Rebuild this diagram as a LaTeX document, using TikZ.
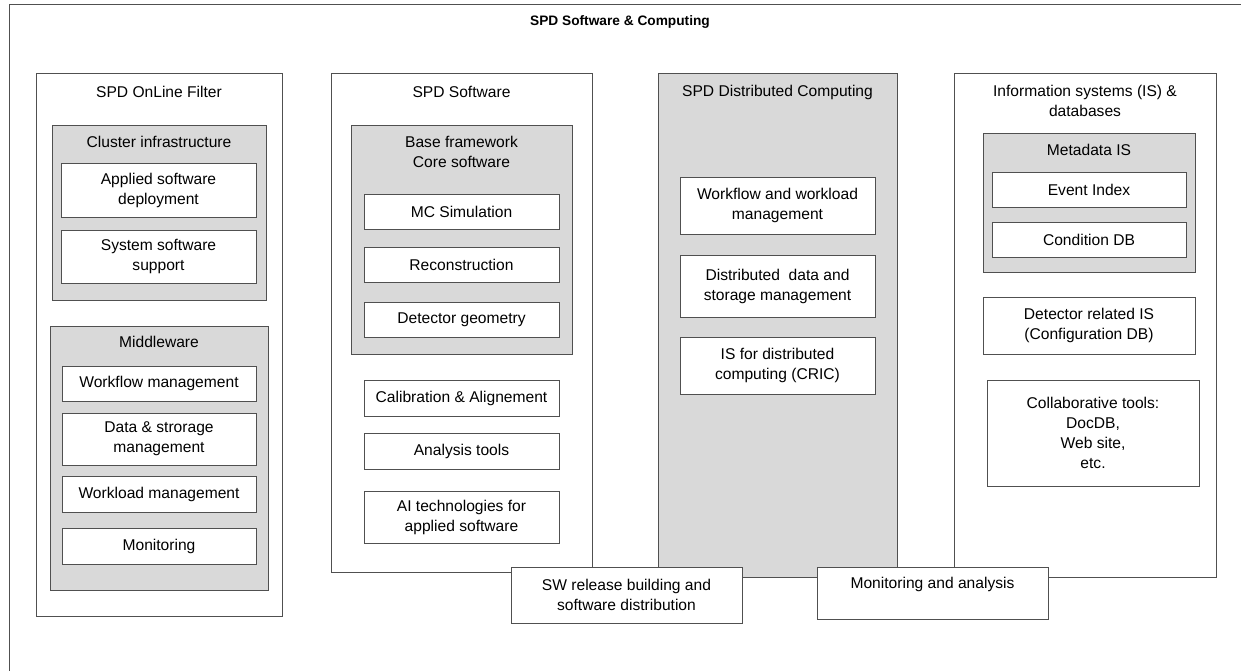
\documentclass[tikz,border=0pt]{standalone}
\usepackage{fontspec}
\setmainfont{Liberation Sans}
\usetikzlibrary{positioning}
\definecolor{panelgray}{RGB}{217,217,217}
\definecolor{edgegray}{RGB}{80,80,80}

\begin{document}
\begin{tikzpicture}[x=1pt, y=-1pt,
    every node/.style={font=\fontsize{15.6}{20}\selectfont, align=center, inner sep=0pt, outer sep=0pt},
    column box/.style={draw=edgegray, line width=1pt, fill=white, anchor=north west},
    group box/.style={draw=edgegray, line width=1pt, fill=panelgray, anchor=north west},
    item box/.style={draw=edgegray, line width=1pt, fill=white, anchor=north west, minimum width=195pt}
]
    \useasboundingbox (0,0) rectangle (1241,670);
    \clip (0,0) rectangle (1241,670);

    \node[column box, minimum width=1260pt, minimum height=700pt] (frame) at (9,4) {};
    \node[font=\bfseries\fontsize{13.7}{16}\selectfont] (main title) at (620,22) {SPD Software \& Computing};

    \node[column box, minimum width=246pt, minimum height=543pt] (online filter) at (36,73) {};
    \node (online title) [yshift=-18.5pt] at (online filter.north) {SPD OnLine Filter};

    \node[group box, minimum width=214pt, minimum height=175pt] (cluster) at (52,125) {};
    \node (cluster title) [yshift=-17pt] at (cluster.north) {Cluster infrastructure};
    \node[item box, minimum height=54pt] (applied sw) at (61,163) {Applied software\\deployment};
    \node[item box, minimum height=53pt, below=13pt of applied sw] (system sw) {System software\\support};

    \node[group box, minimum width=218pt, minimum height=264pt] (middleware) at (50,326) {};
    \node (middleware title) [yshift=-16pt] at (middleware.north) {Middleware};
    \node[item box, minimum width=194pt, minimum height=35pt] (workflow mgmt) at (62,366) {Workflow management};
    \node[item box, minimum width=194pt, minimum height=52pt, below=12pt of workflow mgmt] (data mgmt) {Data \& strorage\\management};
    \node[item box, minimum width=194pt, minimum height=36pt, below=11pt of data mgmt] (workload mgmt) {Workload management};
    \node[item box, minimum width=194pt, minimum height=36pt, below=16pt of workload mgmt] (monitoring) {Monitoring};

    \node[column box, minimum width=261pt, minimum height=499pt] (spd software) at (331,73) {};
    \node (software title) [yshift=-19pt] at (spd software.north) {SPD Software};

    \node[group box, minimum width=221pt, minimum height=229pt] (base framework) at (351,125) {};
    \node (base title) [yshift=-27pt] at (base framework.north) {Base framework\\Core software};
    \node[item box, minimum height=35pt] (mc simulation) at (364,194) {MC Simulation};
    \node[item box, minimum height=35pt, below=18pt of mc simulation] (reconstruction) {Reconstruction};
    \node[item box, minimum height=35pt, below=20pt of reconstruction] (detector geometry) {Detector geometry};

    \node[item box, minimum height=36pt] (calibration) at (364,380) {Calibration \& Alignement};
    \node[item box, minimum height=36pt, below=17pt of calibration] (analysis tools) {Analysis tools};
    \node[item box, minimum height=52pt, below=22pt of analysis tools] (ai tech) {AI technologies for\\applied software};

    \node[group box, minimum width=239pt, minimum height=504pt] (distributed) at (658,73) {};
    \node (distributed title) [yshift=-19pt] at (distributed.north) {SPD Distributed Computing};
    \node[item box, minimum height=57pt] (wf wl mgmt) at (680,177) {Workflow and workload\\management};
    \node[item box, minimum height=62pt, below=21pt of wf wl mgmt] (dist data) {Distributed\ \ data and\\storage management};
    \node[item box, minimum height=57pt, below=20pt of dist data] (cric) {IS for distributed\\computing (CRIC)};

    \node[column box, minimum width=262pt, minimum height=504pt] (info systems) at (954,73) {};
    \node (info title) [yshift=-28pt] at (info systems.north) {Information systems (IS) \&\\databases};

    \node[group box, minimum width=212pt, minimum height=139pt] (metadata) at (983,133) {};
    \node (metadata title) [yshift=-17pt] at (metadata.north) {Metadata IS};
    \node[item box, minimum width=194pt, minimum height=35pt] (event index) at (992,172) {Event Index};
    \node[item box, minimum width=194pt, minimum height=35pt, below=15pt of event index] (condition db) {Condition DB};

    \node[item box, minimum width=212pt, minimum height=57pt] (detector is) at (983,297) {Detector related IS\\(Configuration DB)};
    \node[item box, minimum width=212pt, minimum height=106pt] (collab tools) at (987,380) {Collaborative tools:\\DocDB,\\Web site,\\etc.};

    \node[item box, minimum width=231pt, minimum height=56pt] (sw release) at (511,567) {SW release building and\\software distribution};
    \node[item box, minimum width=231pt, minimum height=52pt] (monitoring analysis) at (817,567) {Monitoring and analysis\\\mbox{}};
\end{tikzpicture}
\end{document}
